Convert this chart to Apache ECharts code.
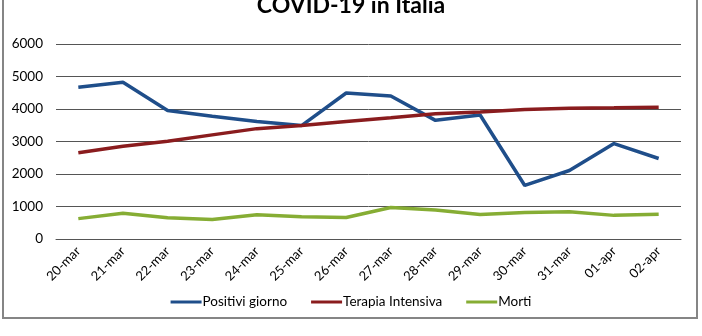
<!DOCTYPE html>
<html>
<head>
<meta charset="utf-8">
<script src="https://cdn.jsdelivr.net/npm/echarts@6/dist/echarts.min.js"></script>
<style>
  html, body { margin: 0; padding: 0; background: #ffffff; }
  #chart { width: 702px; height: 336px; }
</style>
</head>
<body>
<div id="chart"></div>
<script>
// Daily figures, 20 March – 2 April
const days = ['20-mar', '21-mar', '22-mar', '23-mar', '24-mar', '25-mar', '26-mar',
              '27-mar', '28-mar', '29-mar', '30-mar', '31-mar', '01-apr', '02-apr'];
const positiviGiorno = [4670, 4821, 3957, 3780, 3612, 3491, 4492, 4401, 3651, 3815, 1648, 2107, 2937, 2477];
const terapiaIntensiva = [2655, 2857, 3009, 3204, 3396, 3489, 3612, 3732, 3856, 3906, 3981, 4023, 4035, 4053];
const morti = [627, 793, 651, 601, 743, 683, 662, 969, 889, 756, 812, 837, 727, 760];
const yTicks = [0, 1000, 2000, 3000, 4000, 5000, 6000];

const FONT = 'Lato, "Open Sans", sans-serif';
const chart = echarts.init(document.getElementById('chart'), null, { renderer: 'canvas' });

function lineSeries(name, data, color) {
  return {
    name: name,
    type: 'line',
    data: data,
    showSymbol: false,
    symbol: 'none',
    smooth: false,
    lineStyle: { color: color, width: 3.5 },
    itemStyle: { color: color },
    emphasis: { disabled: true }
  };
}

chart.setOption({
  backgroundColor: '#ffffff',
  animation: false,
  title: {
    text: 'COVID-19 in Italia',
    left: 'center',
    top: -11,
    textStyle: { fontFamily: FONT, fontSize: 23, fontWeight: 'bold', color: '#000000' }
  },
  graphic: [{
    type: 'rect',
    shape: { x: 3, y: -10, width: 694, height: 328 },
    style: { fill: 'none', stroke: '#858585', lineWidth: 2 },
    silent: true
  }],
  legend: {
    data: ['Positivi giorno', 'Terapia Intensiva', 'Morti'],
    left: 'center',
    top: 290,
    icon: 'rect',
    itemWidth: 31,
    itemHeight: 3,
    itemGap: 24,
    textStyle: { fontFamily: FONT, fontSize: 13.5, color: '#000000', padding: [0, 0, 0, -4] }
  },
  grid: {
    left: 56, right: 21, top: 44, bottom: 97,
    containLabel: false,
    outerBoundsMode: 'none'
  },
  xAxis: {
    type: 'category',
    data: days,
    boundaryGap: true,
    axisLine: { show: true, lineStyle: { color: '#555555', width: 1 } },
    axisTick: { show: false },
    axisLabel: {
      rotate: 45,
      interval: 0,
      margin: 10,
      fontFamily: FONT,
      fontSize: 13,
      color: '#000000'
    }
  },
  yAxis: {
    type: 'value',
    min: yTicks[0],
    max: yTicks[yTicks.length - 1],
    interval: yTicks[1] - yTicks[0],
    axisLine: { show: false },
    axisTick: { show: false },
    splitLine: { show: true, lineStyle: { color: '#555555', width: 1 } },
    axisLabel: {
      margin: 13,
      fontFamily: FONT,
      fontSize: 13.5,
      color: '#000000',
      formatter: function (v) { return String(v); }
    }
  },
  series: [
    lineSeries('Positivi giorno', positiviGiorno, '#1f4e8a'),
    lineSeries('Terapia Intensiva', terapiaIntensiva, '#8a1c1e'),
    lineSeries('Morti', morti, '#86ad34')
  ]
});
</script>
</body>
</html>
